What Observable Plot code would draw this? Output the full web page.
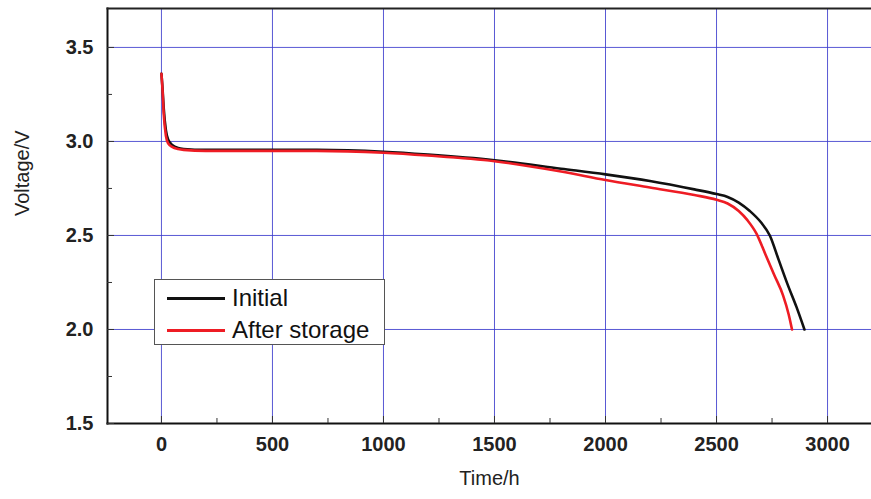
<!DOCTYPE html>
<html>
<head>
<meta charset="utf-8">
<script src="https://cdn.jsdelivr.net/npm/d3@7"></script>
<script src="https://cdn.jsdelivr.net/npm/@observablehq/plot@0.6"></script>
<style>
  html, body { margin: 0; padding: 0; background: #fff; }
  #wrap { position: relative; width: 871px; height: 499px; font-family: "Liberation Sans", Arial, sans-serif; }
  #legend { position: absolute; left: 154px; top: 279px; width: 231px; height: 66px; background: #fff; border: 1px solid #555; box-sizing: border-box; }
  .row { position: absolute; left: 12px; display: flex; align-items: center; font-size: 24px; color: #111; line-height: 28px; }
  .sw { width: 58px; height: 3px; margin-right: 7px; }
</style>
</head>
<body>
<div id="wrap"></div>
<script>
const seriesNames = ["Initial", "After storage"];
const seriesColors = ["#111111", "#ee1c24"];

const initialTime = [0,5,10,20,30,50,75,100,200,300,500,700,1000,1200,1500,1800,2000,2200,2400,2500,2550,2600,2650,2700,2740,2780,2820,2860,2896];
const initialVolt = [3.36,3.28,3.18,3.06,3.01,2.98,2.965,2.96,2.955,2.955,2.955,2.955,2.945,2.93,2.90,2.855,2.825,2.79,2.745,2.72,2.705,2.675,2.63,2.57,2.5,2.37,2.24,2.12,2.0];

const afterTime = [0,5,10,20,30,50,75,100,200,300,500,700,1000,1200,1500,1800,2000,2200,2400,2500,2550,2600,2640,2680,2720,2760,2800,2825,2840];
const afterVolt = [3.36,3.27,3.15,3.03,2.99,2.97,2.96,2.955,2.95,2.95,2.95,2.95,2.94,2.925,2.895,2.84,2.795,2.755,2.715,2.69,2.67,2.63,2.58,2.51,2.40,2.29,2.18,2.08,2.0];

const xMajor = [0,500,1000,1500,2000,2500,3000];
const xMinor = [250,750,1250,1750,2250,2750];
const yMajor = [1.5,2.0,2.5,3.0,3.5];
const yMinor = [1.75,2.25,2.75,3.25];

const rows = [];
initialTime.forEach((t,i)=>rows.push({series: seriesNames[0], t, v: initialVolt[i]}));
afterTime.forEach((t,i)=>rows.push({series: seriesNames[1], t, v: afterVolt[i]}));

const chart = Plot.plot({
  width: 871,
  height: 499,
  marginLeft: 107,
  marginRight: 0,
  marginTop: 8,
  marginBottom: 76,
  style: {fontFamily: "'Liberation Sans', Arial, sans-serif", background: "#fff"},
  x: {domain: [-243, 3198], label: null},
  y: {domain: [1.5, 3.707], label: null},
  color: {domain: seriesNames, range: seriesColors},
  marks: [
    Plot.gridX(xMajor, {stroke: "#3c3ccc", strokeOpacity: 0.85, strokeWidth: 1}),
    Plot.gridY(yMajor.filter(d => d > 1.5), {stroke: "#3c3ccc", strokeOpacity: 0.85, strokeWidth: 1}),
    Plot.line(rows, {x: "t", y: "v", z: "series", stroke: "series", strokeWidth: 2.6, curve: "monotone-x"}),
    Plot.frame({anchor: "left", stroke: "#111", strokeWidth: 2}),
    Plot.frame({anchor: "top", stroke: "#222", strokeWidth: 2}),
    Plot.frame({anchor: "bottom", stroke: "#111", strokeWidth: 2}),
    Plot.axisX(xMajor, {anchor: "bottom", tickSize: -7, tickPadding: 20, stroke: "#333", fontSize: 20, fontWeight: "bold", fill: "#222", label: null, tickFormat: d3.format("d")}),
    Plot.axisX(xMinor, {anchor: "bottom", tickSize: -5, tickFormat: () => "", stroke: "#333", label: null}),
    Plot.axisY(yMajor, {anchor: "left", tickSize: -7, tickPadding: 21, stroke: "#333", fontSize: 20, fontWeight: "bold", fill: "#222", label: null, tickFormat: d3.format(".1f")}),
    Plot.axisY(yMinor, {anchor: "left", tickSize: -5, tickFormat: () => "", stroke: "#333", label: null}),
    Plot.text(["Time/h"], {frameAnchor: "bottom", dy: 61, fontSize: 20, fill: "#222"}),
    Plot.text(["Voltage/V"], {frameAnchor: "left", dx: -85, dy: 0, rotate: -90, fontSize: 20, fill: "#222"})
  ]
});

const wrap = document.getElementById("wrap");
wrap.appendChild(chart);

const legend = document.createElement("div");
legend.id = "legend";
seriesNames.forEach((name, i) => {
  const row = document.createElement("div");
  row.className = "row";
  row.style.top = (i === 0 ? 4 : 36) + "px";
  const sw = document.createElement("div");
  sw.className = "sw";
  sw.style.background = seriesColors[i];
  const label = document.createElement("span");
  label.textContent = name;
  row.appendChild(sw);
  row.appendChild(label);
  legend.appendChild(row);
});
wrap.appendChild(legend);
</script>
</body>
</html>
